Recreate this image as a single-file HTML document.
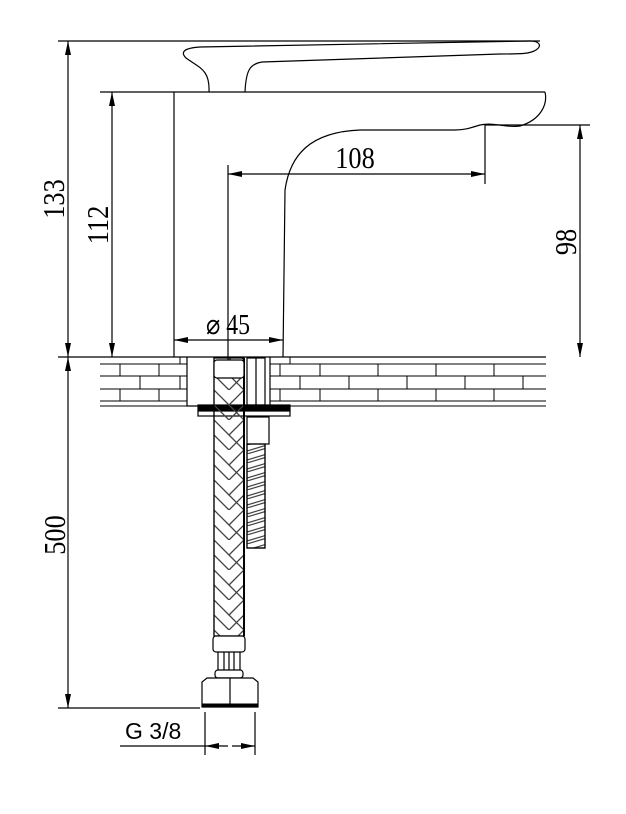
<!DOCTYPE html>
<html><head><style>body{margin:0;background:#fff}svg{display:block}</style></head><body>
<svg width="626" height="814" viewBox="0 0 626 814" xmlns="http://www.w3.org/2000/svg">
<defs>
<marker id="a" markerWidth="14" markerHeight="6" refX="14" refY="3" orient="auto-start-reverse" markerUnits="userSpaceOnUse"><path d="M0,0 L14,3 L0,6 z" fill="#000"/></marker>
<pattern id="braid" width="30" height="30" patternUnits="userSpaceOnUse" x="214" y="360">
<path d="M0,0 L15,15 M0,15 L15,30 M15,15 L30,0 M15,30 L30,15 M15,15 L30,30" stroke="#444" stroke-width="1.3" fill="none"/>
</pattern>
<pattern id="thread" width="20" height="9" patternUnits="userSpaceOnUse" x="247" y="445">
<path d="M0,6 L20,0 M0,9 L20,3" stroke="#444" stroke-width="1.2"/>
</pattern>
</defs>
<g fill="none" stroke="#000" stroke-width="1.2">
<line x1="58" y1="41" x2="540" y2="41"/>
<path d="M209,92 C210,70 200,68 186,58 C180,52 184,48 200,47 L530,41 C540,41 542,46 536,50 C530,54 520,54 500,54 L262,62 C250,64 246,70 245,92"/>
<line x1="100" y1="92" x2="545" y2="92"/>
<path d="M174,92 L174,357"/>
<path d="M545,92 C548,105 540,120 520,126 C505,128 495,122 480,125 C470,128 465,130 455,130 L360,130 C310,132 290,155 285,190 L283,357"/>
<line x1="68" y1="41" x2="68" y2="357" marker-start="url(#a)" marker-end="url(#a)"/>
<line x1="112" y1="92" x2="112" y2="357" marker-start="url(#a)" marker-end="url(#a)"/>
<line x1="485" y1="125" x2="590" y2="125"/>
<line x1="485" y1="125" x2="485" y2="184"/>
<line x1="228" y1="165" x2="228" y2="357"/>
<line x1="228" y1="174" x2="485" y2="174" marker-start="url(#a)" marker-end="url(#a)"/>
<line x1="580" y1="125" x2="580" y2="357" marker-start="url(#a)" marker-end="url(#a)"/>
<line x1="174" y1="340" x2="283" y2="340" marker-start="url(#a)" marker-end="url(#a)"/>
<line x1="58" y1="357" x2="546" y2="357"/>
<g stroke-width="1">
<path d="M100,364 H187 M270,364 H546 M100,376 H187 M270,376 H546 M100,389 H187 M270,389 H546 M100,401 H187 M270,401 H546 M100,406 H187 M270,406 H546"/>
<path d="M120,364V376 M159,364V376 M180,357V364 M140,376V389 M180,376V389 M120,389V401 M159,389V401
M320,364V376 M378,364V376 M436,364V376 M494,364V376 M300,376V389 M349,376V389 M407,376V389 M465,376V389 M523,376V389 M320,389V401 M378,389V401 M436,389V401 M494,389V401 M290,357V364 M280,364V376 M280,389V401"/>
</g>
<path d="M187,357 V406 H270 V357"/>
<rect x="198" y="405" width="92" height="6" fill="#000"/>
<rect x="198" y="411" width="92" height="5" fill="#fff"/>
<rect x="214" y="358" width="30" height="278" fill="url(#braid)"/>
<line x1="214" y1="358" x2="214" y2="636"/><line x1="244" y1="358" x2="244" y2="636" stroke-width="2"/>
<rect x="214" y="360" width="30" height="18" rx="3" fill="#fff"/>
<rect x="247" y="358" width="18" height="47"/><line x1="256" y1="358" x2="256" y2="405"/>
<rect x="247" y="417" width="22" height="27" fill="#fff"/>
<rect x="247" y="444" width="18" height="104" fill="url(#thread)"/>
<path d="M247,444 V548 H265 V444"/>
<rect x="213" y="636" width="32" height="16" rx="3" fill="#fff"/>
<path d="M218,652 V672 M224,652 V672 M229,652 V672 M234,652 V672 M240,652 V672"/>
<rect x="215" y="670" width="28" height="8" rx="3" fill="#fff"/>
<path d="M202,707 V682 L207,678 H253 L258,682 V707 Z" fill="#fff"/>
<line x1="230" y1="678" x2="230" y2="705"/>
<line x1="202" y1="705" x2="258" y2="705" stroke-width="3"/>
<line x1="58" y1="708" x2="200" y2="708"/>
<line x1="68" y1="357" x2="68" y2="708" marker-start="url(#a)" marker-end="url(#a)"/>
<line x1="205" y1="712" x2="205" y2="755"/><line x1="255" y1="712" x2="255" y2="755"/>
<line x1="120" y1="746" x2="205" y2="746"/>
<line x1="205" y1="746" x2="228" y2="746" marker-start="url(#a)"/>
<line x1="232" y1="746" x2="255" y2="746" marker-end="url(#a)"/>
</g>
<g font-family="Liberation Serif, serif" font-size="31" fill="#000" text-anchor="middle">
<text transform="translate(355,168) scale(0.85,1)">108</text>
<text transform="translate(64,199) rotate(-90) scale(0.85,1)">133</text>
<text transform="translate(108,225) rotate(-90) scale(0.85,1)">112</text>
<text transform="translate(576,242) rotate(-90) scale(0.85,1)">98</text>
<text transform="translate(65,535) rotate(-90) scale(0.85,1)">500</text>
<text transform="translate(228,334) scale(0.85,1)" font-size="28">⌀ 45</text>
</g>
<text x="125" y="739" font-family="Liberation Sans, sans-serif" font-size="23">G 3/8</text>
</svg>
</body></html>
